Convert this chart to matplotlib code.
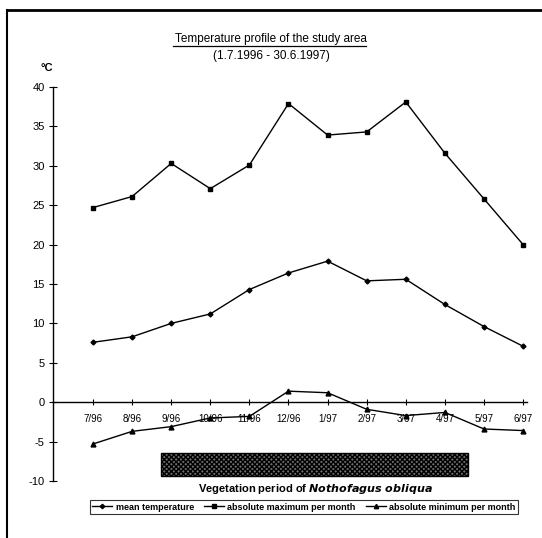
import matplotlib
matplotlib.use("Agg")
import matplotlib.pyplot as plt
from matplotlib.patches import Rectangle

plt.rcParams['font.family'] = ['Liberation Sans', 'DejaVu Sans']
plt.rcParams['axes.unicode_minus'] = False

months = ['7/96', '8/96', '9/96', '10/96', '11/96', '12/96',
          '1/97', '2/97', '3/97', '4/97', '5/97', '6/97']
mean_temp = [7.6, 8.3, 10.0, 11.2, 14.3, 16.4, 17.9, 15.4, 15.6, 12.4, 9.6, 7.1]
abs_max = [24.7, 26.1, 30.3, 27.1, 30.1, 37.9, 33.9, 34.3, 38.1, 31.6, 25.8, 20.0]
abs_min = [-5.3, -3.7, -3.1, -2.0, -1.8, 1.4, 1.2, -0.9, -1.7, -1.3, -3.4, -3.6]

# vegetation period shown as a hatched bar (month index range, degC range)
veg_start, veg_end = 1.74, 9.6
veg_low, veg_high = -9.4, -6.4

fig = plt.figure(figsize=(5.42, 5.38), dpi=100)
ax = fig.add_axes([53 / 542, 57 / 538, 474 / 542, 394 / 538])

x = list(range(len(months)))
ax.plot(x, mean_temp, color='black', lw=1, marker='D', ms=2.5, label='mean temperature')
ax.plot(x, abs_max, color='black', lw=1, marker='s', ms=3, label='absolute maximum per month')
ax.plot(x, abs_min, color='black', lw=1, marker='^', ms=3.5, label='absolute minimum per month')

ax.add_patch(Rectangle((veg_start, veg_low), veg_end - veg_start, veg_high - veg_low,
                       facecolor='#6e6e6e', edgecolor='black', hatch='xxxxxxx', lw=1))

ax.set_xlim(-1.023, 11.1)
ax.set_ylim(-10, 40)
ax.set_yticks(range(-10, 41, 5))
ax.set_xticks(x)
ax.set_xticklabels(months)

for side in ['top', 'right']:
    ax.spines[side].set_visible(False)
ax.spines['bottom'].set_position(('data', 0))
ax.spines['left'].set_linewidth(1)
ax.spines['bottom'].set_linewidth(1)
ax.tick_params(axis='y', direction='inout', length=6, labelsize=8, pad=3)
ax.tick_params(axis='x', direction='inout', length=5, labelsize=7, pad=6)

fig.text(0.5, 1 - 39 / 538, 'Temperature profile of the study area', ha='center',
         va='center', fontsize=8.5)
fig.add_artist(plt.Line2D([173 / 542, 366 / 542], [1 - 46 / 538, 1 - 46 / 538],
                          color='black', lw=0.9))
fig.text(0.5, 1 - 56 / 538, '(1.7.1996 - 30.6.1997)', ha='center', va='center', fontsize=8.5)
fig.text(47 / 542, 1 - 68 / 538, '°C', ha='center', va='center', fontsize=8, fontweight='bold')

fig.text(315 / 542, 1 - 489 / 538, 'Vegetation period of $\\mathbfit{Nothofagus\\ obliqua}$',
         ha='center', va='center', fontsize=8, fontweight='bold')

leg = fig.legend(loc='center', bbox_to_anchor=(304 / 542, 1 - 507 / 538), ncol=3,
                 fontsize=6.5, frameon=True, fancybox=False, edgecolor='black',
                 handlelength=2.2, handletextpad=0.4, columnspacing=1.1,
                 borderpad=0.3, markerscale=0.9)
leg.get_frame().set_linewidth(0.8)
for t in leg.get_texts():
    t.set_fontweight('bold')

# frame around the figure (top and left edges)
fig.add_artist(plt.Line2D([7 / 542, 1], [1 - 10 / 538, 1 - 10 / 538], color='black', lw=2))
fig.add_artist(plt.Line2D([7 / 542, 7 / 542], [0, 1 - 10 / 538], color='black', lw=1.5))

fig.savefig('out.png', dpi=100)
